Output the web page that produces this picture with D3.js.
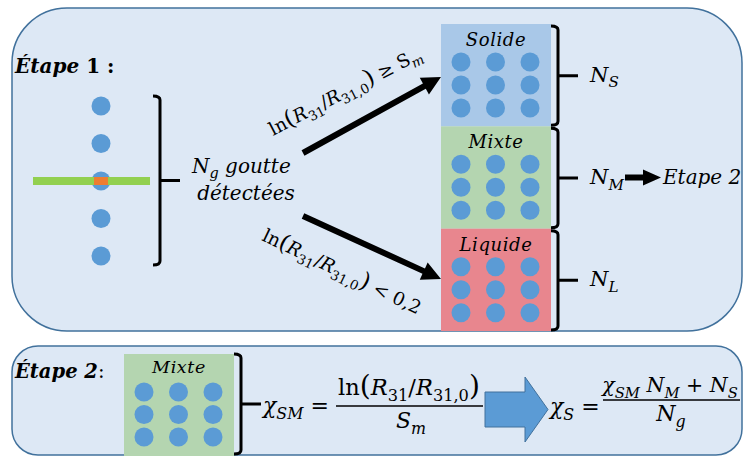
<!DOCTYPE html>
<html><head><meta charset="utf-8">
<script src="https://cdn.jsdelivr.net/npm/d3@7"></script>
<style>body{margin:0;background:#fff}svg{display:block}text{white-space:pre}</style>
</head><body>
<script>
// ---------- data ----------
const stageLabels = ["Étape ", "1 :", "Étape 2", ":"];
const phases = ["Solide", "Mixte", "Liquide"];
const phaseFill = ["#a9c8e8", "#b4d5b0", "#e8868e"];
const phaseCountSub = ["S", "M", "L"];
const gridRows = [0, 1, 2];
const gridCols = [0, 1, 2];
const detectedDrops = [0, 1, 2, 3, 4];
const laserDropIndex = 2;
const detectedText = ["goutte", "détectées"];
const nextStepText = "Etape 2";

const W = 743, H = 456;
const SERIF = "'DejaVu Serif', serif";
const DOT = "#5b9bd5";
const svg = d3.select("body").append("svg").attr("width", W).attr("height", H);

// ---------- helpers ----------
function mathText(parent, x, y, parts, size, anchor) {
  const t = parent.append("text").attr("x", x).attr("y", y)
    .attr("font-family", SERIF).attr("font-size", size)
    .attr("text-anchor", anchor || "start").attr("fill", "#000");
  let shifted = 0;
  parts.forEach(p => {
    const s = p.sub ? size * 0.27 : 0;
    const ts = t.append("tspan").text(p.t)
      .attr("font-style", p.it === false ? "normal" : "italic")
      .attr("font-weight", p.bold ? "bold" : "normal")
      .attr("font-size", p.sub ? size * 0.72 : size * (p.scale || 1));
    if (s - shifted) ts.attr("dy", s - shifted);
    shifted = s;
  });
  return t;
}
function arrowPoly(x1, y1, x2, y2, sw, hl, hw) {
  const dx = x2 - x1, dy = y2 - y1, L = Math.hypot(dx, dy);
  const ux = dx / L, uy = dy / L, nx = -uy, ny = ux;
  const bx = x2 - ux * hl, by = y2 - uy * hl;
  const pts = [
    [x1 + nx * sw / 2, y1 + ny * sw / 2], [bx + nx * sw / 2, by + ny * sw / 2],
    [bx + nx * hw / 2, by + ny * hw / 2], [x2, y2],
    [bx - nx * hw / 2, by - ny * hw / 2], [bx - nx * sw / 2, by - ny * sw / 2],
    [x1 - nx * sw / 2, y1 - ny * sw / 2]];
  return "M" + pts.map(p => p.join(",")).join("L") + "Z";
}
function bracket(parent, x, y0, y1, hook, tick) {
  const ym = (y0 + y1) / 2;
  parent.append("path")
    .attr("d", `M${x - hook},${y0}Q${x},${y0} ${x},${y0 + 4}L${x},${y1 - 4}Q${x},${y1} ${x - hook},${y1}M${x},${ym}L${x + tick},${ym}`)
    .attr("fill", "none").attr("stroke", "#000").attr("stroke-width", 3);
}

// ---------- panels ----------
svg.append("rect").attr("x", 12).attr("y", 8).attr("width", 730).attr("height", 323).attr("rx", 55)
  .attr("fill", "#dde8f5").attr("stroke", "#41719c").attr("stroke-width", 1.5);
svg.append("rect").attr("x", 12).attr("y", 346).attr("width", 730).attr("height", 109).attr("rx", 26)
  .attr("fill", "#dde8f5").attr("stroke", "#41719c").attr("stroke-width", 1.5);

// ---------- stage 1 ----------
mathText(svg, 15, 73, [{t: stageLabels[0], bold: true}, {t: stageLabels[1], bold: true, it: false}], 20);

const yDetected = d3.scalePoint().domain(detectedDrops).range([106, 256]);
svg.selectAll("circle.det").data(detectedDrops).join("circle").attr("class", "det")
  .attr("cx", 101).attr("cy", d => yDetected(d)).attr("r", 9.5).attr("fill", DOT);
// laser beam crossing the detected drop
const yl = yDetected(laserDropIndex);
svg.append("rect").attr("x", 33).attr("y", yl - 4).attr("width", 117).attr("height", 8).attr("fill", "#92d050");
svg.append("rect").attr("x", 94).attr("y", yl - 4).attr("width", 14).attr("height", 8).attr("fill", "#ed7d31");

bracket(svg, 160, 96, 265, 7, 20);
mathText(svg, 192, 173, [{t: "N"}, {t: "g", sub: true}, {t: " " + detectedText[0]}], 20);
mathText(svg, 246, 200, [{t: detectedText[1]}], 20, "middle");

// arrows
svg.append("path").attr("d", arrowPoly(303, 153, 441, 77, 6, 19, 19)).attr("fill", "#000");
svg.append("path").attr("d", arrowPoly(303, 216, 441, 279, 6, 19, 19)).attr("fill", "#000");

const lnParts = [{t: "ln", it: false}, {t: "(", it: false, scale: 1.25}, {t: "R"}, {t: "31", sub: true, it: false},
  {t: "/", it: false}, {t: "R"}, {t: "31,0", sub: true, it: false}, {t: ")", it: false, scale: 1.25}];
mathText(svg.append("g").attr("transform", "translate(273,136) rotate(-27.5)"), 0, 0,
  lnParts.concat([{t: " ≥ ", it: false}, {t: "S", it: false}, {t: "m", sub: true}]), 18.5);
mathText(svg.append("g").attr("transform", "translate(261,240) rotate(25.5)"), 0, 0,
  lnParts.concat([{t: " < 0,2", it: false}]), 18.5);

// phase boxes
const yPhase = d3.scaleBand().domain(phases).range([24, 331]);
const xGrid = d3.scalePoint().domain(gridCols).range([461, 530]);
const yGrid = d3.scalePoint().domain(gridRows).range([38, 84]);
const boxX0 = 441, boxX1 = 551;
const pg = svg.selectAll("g.phase").data(phases).join("g").attr("class", "phase")
  .attr("transform", d => `translate(0,${yPhase(d)})`);
pg.append("rect").attr("x", boxX0).attr("y", 0).attr("width", boxX1 - boxX0).attr("height", yPhase.bandwidth())
  .attr("fill", (d, i) => phaseFill[i]);
pg.append("text").attr("x", (boxX0 + boxX1) / 2).attr("y", 22).attr("text-anchor", "middle")
  .attr("font-family", SERIF).attr("font-style", "italic").attr("font-size", 18).attr("letter-spacing", 0.6)
  .text(d => d);
gridRows.forEach(r => gridCols.forEach(c => {
  pg.append("circle").attr("cx", xGrid(c)).attr("cy", yGrid(r)).attr("r", 9.5).attr("fill", DOT);
}));
phases.forEach((p, i) => {
  const y0 = yPhase(p) + 2, y1 = yPhase(p) + yPhase.bandwidth() - 1;
  bracket(svg, 558, y0, y1, 7, 20);
  mathText(svg, 590, (y0 + y1) / 2 + 6, [{t: "N"}, {t: phaseCountSub[i], sub: true}], 21);
});
// N_M -> Etape 2
const yM = yPhase("Mixte") + yPhase.bandwidth() / 2;
svg.append("path").attr("d", arrowPoly(625, yM, 661, yM, 6, 18, 16)).attr("fill", "#000");
mathText(svg, 663, yM + 6, [{t: nextStepText}], 20);

// ---------- stage 2 ----------
mathText(svg, 15, 378, [{t: stageLabels[2], bold: true}, {t: stageLabels[3], it: false}], 19.5);
const xGrid2 = d3.scalePoint().domain(gridCols).range([144, 213]);
const yGrid2 = d3.scalePoint().domain(gridRows).range([392, 437]);
svg.append("rect").attr("x", 124).attr("y", 354).attr("width", 110).attr("height", 102).attr("fill", phaseFill[1]);
svg.append("text").attr("x", 179).attr("y", 373).attr("text-anchor", "middle")
  .attr("font-family", SERIF).attr("font-style", "italic").attr("font-size", 17.5).attr("letter-spacing", 0.6).text(phases[1]);
gridRows.forEach(r => gridCols.forEach(c => {
  svg.append("circle").attr("cx", xGrid2(c)).attr("cy", yGrid2(r)).attr("r", 9.5).attr("fill", DOT);
}));
bracket(svg, 241, 354, 454, 7, 20);

mathText(svg, 263, 413, [{t: "χ"}, {t: "SM", sub: true}, {t: " = ", it: false}], 22);
mathText(svg, 409, 395, lnParts, 22.5, "middle");
svg.append("line").attr("x1", 336).attr("x2", 483).attr("y1", 406).attr("y2", 406).attr("stroke", "#000").attr("stroke-width", 1.3);
mathText(svg, 411, 428, [{t: "S"}, {t: "m", sub: true}], 22, "middle");

// big blue arrow
svg.append("path").attr("d", arrowPoly(485, 409.5, 548, 409.5, 35, 23, 65))
  .attr("fill", DOT).attr("stroke", "#41719c").attr("stroke-width", 1);

mathText(svg, 550, 414, [{t: "χ"}, {t: "S", sub: true}, {t: " = ", it: false}], 22);
mathText(svg, 670, 392, [{t: "χ"}, {t: "SM", sub: true}, {t: " N"}, {t: "M", sub: true}, {t: " + ", it: false}, {t: "N"}, {t: "S", sub: true}], 20.5, "middle");
svg.append("line").attr("x1", 603).attr("x2", 740).attr("y1", 400).attr("y2", 400).attr("stroke", "#000").attr("stroke-width", 1.3);
mathText(svg, 671, 421, [{t: "N"}, {t: "g", sub: true}], 22, "middle");
</script>
</body></html>
